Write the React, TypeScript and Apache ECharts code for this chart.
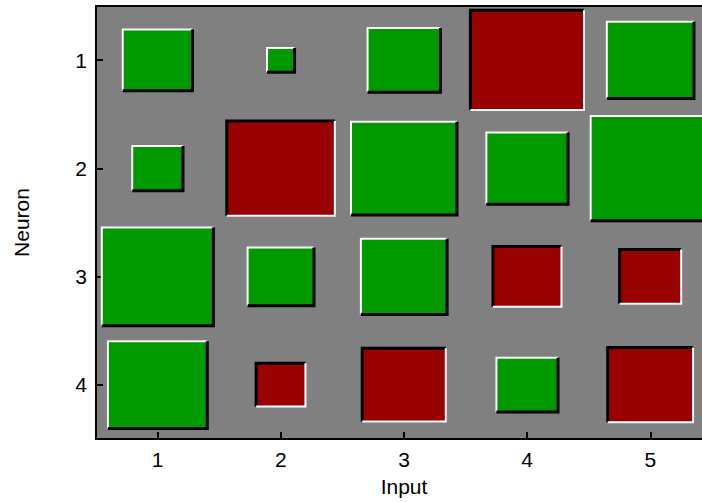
import React, { useEffect, useRef } from "react";
import * as echarts from "echarts";

// Hinton diagram weights: rows = neurons, columns = inputs. Side of square = sqrt(|w|).
const inputs = [1, 2, 3, 4, 5];
const neurons = [1, 2, 3, 4];
const weightsNeuron1 = [0.32, 0.05, 0.35, -0.85, 0.5];
const weightsNeuron2 = [0.17, -0.77, 0.74, 0.44, 0.94];
const weightsNeuron3 = [0.82, 0.29, 0.49, -0.31, -0.25];
const weightsNeuron4 = [0.65, -0.16, -0.46, 0.25, -0.48];
const weightRows = [weightsNeuron1, weightsNeuron2, weightsNeuron3, weightsNeuron4];

const GREEN = "#009900";
const RED = "#990000";
const FONT = "Liberation Sans";
const FS = 21;

export default function App() {
  const ref = useRef<HTMLDivElement>(null);
  useEffect(() => {
    if (!ref.current) return;
    const chart = echarts.init(ref.current, undefined, { renderer: "svg" });
    const data: number[][] = [];
    weightRows.forEach((row, ri) => {
      row.forEach((w, ci) => {
        data.push([inputs[ci], neurons[ri], w]);
      });
    });
    chart.setOption({
      animation: false,
      grid: {
        left: 96,
        top: 6,
        width: 616,
        height: 434,
        show: true,
        backgroundColor: "#808080",
        borderColor: "#000",
        borderWidth: 2,
      },
      xAxis: {
        type: "value",
        min: 0.5,
        max: 5.5,
        name: "Input",
        nameLocation: "middle",
        nameGap: 37,
        nameTextStyle: { fontFamily: FONT, fontSize: FS, color: "#000" },
        axisLine: { show: true, lineStyle: { color: "#000", width: 2 } },
        axisTick: { show: true, inside: true, length: 7, customValues: inputs, lineStyle: { color: "#000", width: 2 } },
        axisLabel: { customValues: inputs, fontFamily: FONT, fontSize: FS, color: "#000", margin: 10 },
        splitLine: { show: false },
      },
      yAxis: {
        type: "value",
        min: 0.5,
        max: 4.5,
        inverse: true,
        name: "Neuron",
        nameLocation: "middle",
        nameGap: 64,
        nameRotate: 90,
        nameTextStyle: { fontFamily: FONT, fontSize: FS, color: "#000" },
        axisLine: { show: true, lineStyle: { color: "#000", width: 2 } },
        axisTick: { show: true, inside: true, length: 7, customValues: neurons, lineStyle: { color: "#000", width: 2 } },
        axisLabel: { customValues: neurons, fontFamily: FONT, fontSize: FS, color: "#000", margin: 9 },
        splitLine: { show: false },
      },
      series: [
        {
          type: "custom",
          clip: true,
          data,
          renderItem: (params: any, api: any) => {
            const x = api.value(0);
            const y = api.value(1);
            const w = api.value(2);
            const s = Math.sqrt(Math.abs(w));
            const p1 = api.coord([x - s / 2, y - s / 2]);
            const p2 = api.coord([x + s / 2, y + s / 2]);
            const left = Math.min(p1[0], p2[0]);
            const right = Math.max(p1[0], p2[0]);
            const top = Math.min(p1[1], p2[1]);
            const bottom = Math.max(p1[1], p2[1]);
            const pos = w >= 0;
            return {
              type: "group",
              children: [
                {
                  type: "rect",
                  shape: { x: left, y: top, width: right - left, height: bottom - top },
                  style: { fill: pos ? GREEN : RED, stroke: "#000", lineWidth: 1 },
                },
                {
                  type: "polyline",
                  shape: { points: [[left, bottom], [left, top], [right, top]] },
                  style: { stroke: pos ? "#fff" : "#000", lineWidth: pos ? 2 : 3, fill: null },
                },
                {
                  type: "polyline",
                  shape: { points: [[left, bottom], [right, bottom], [right, top]] },
                  style: { stroke: pos ? "#000" : "#fff", lineWidth: pos ? 3 : 2, fill: null },
                },
              ],
            };
          },
        },
      ],
    });
    return () => chart.dispose();
  }, []);
  return (
    <div style={{ position: "fixed", left: 0, top: 0, width: 702, height: 502, overflow: "hidden", background: "#fff" }}>
      <div ref={ref} style={{ width: 730, height: 502 }} />
    </div>
  );
}
